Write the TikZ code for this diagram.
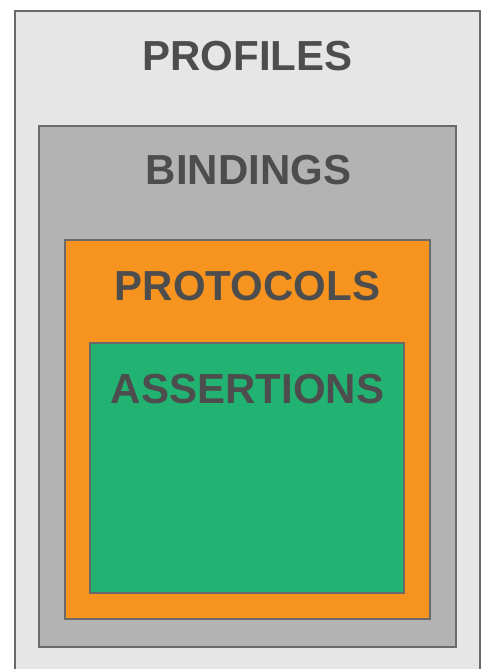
\documentclass[tikz,border=0pt]{standalone}
\usepackage{fontspec}
\setmainfont{Liberation Sans}
\definecolor{bgA}{HTML}{E6E6E6}
\definecolor{bgB}{HTML}{B3B3B3}
\definecolor{bgC}{HTML}{F7941F}
\definecolor{bgD}{HTML}{22B373}
\definecolor{edge}{HTML}{6A6A6A}
\definecolor{txt}{HTML}{4D4D4D}
\tikzset{layer/.style={draw=edge,line width=2pt},
lbl/.style={text=txt,font=\bfseries\fontsize{42}{42}\selectfont,inner sep=0pt,anchor=base}}
\begin{document}
\begin{tikzpicture}[x=1pt,y=1pt]
\useasboundingbox (0,0) rectangle (484,669);
\fill[white] (0,0) rectangle (484,669);
\draw[layer,fill=bgA] (15,-10) rectangle (480,658);
\draw[layer,fill=bgB] (39,22) rectangle (456,543);
\draw[layer,fill=bgC] (65,50) rectangle (430,429);
\draw[layer,fill=bgD] (90,76) rectangle (404,326);
\node[lbl] (profiles) at (247.5,598) {PROFILES};
\node[lbl] (bindings) at (248.5,484) {BINDINGS};
\node[lbl] (protocols) at (247.5,368) {PROTOCOLS};
\node[lbl] (assertions) at (247.5,265) {ASSERTIONS};
\end{tikzpicture}
\end{document}
